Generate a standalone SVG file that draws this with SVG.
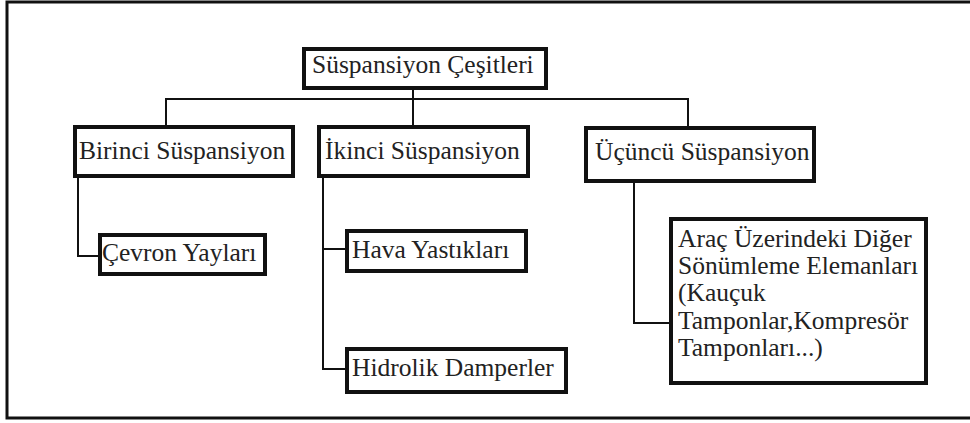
<svg xmlns="http://www.w3.org/2000/svg" width="970" height="423" viewBox="0 0 970 423">
<style>
.box{fill:#fff;stroke:#111;stroke-width:4}
.t{font-family:'Liberation Serif','Times New Roman',serif;font-size:25.5px;fill:#222}
.c{fill:none;stroke:#111;stroke-width:2}
.frame{fill:none;stroke:#111;stroke-width:3}
</style>
<rect x="0" y="0" width="970" height="423" fill="#fff"/>
<path class="frame" d="M970,2 H7 V418 H970"/>
<g id="connectors">
<path class="c" d="M413,90 V126"/>
<path class="c" d="M166,126 V99 H688 V126"/>
<path class="c" d="M78,178 V256 H98"/>
<path class="c" d="M323,178 V369 H345 M323,249 H345"/>
<path class="c" d="M634,183 V323 H669"/>
</g>
<g id="root"><rect class="box" x="304" y="49" width="242" height="39"/><text class="t" x="312" y="73">Süspansiyon Çeşitleri</text></g>
<g id="birinci"><rect class="box" x="75" y="127" width="218" height="49"/><text class="t" x="79" y="159">Birinci Süspansiyon</text></g>
<g id="ikinci"><rect class="box" x="319" y="127" width="209" height="49"/><text class="t" x="325" y="159">İkinci Süspansiyon</text></g>
<g id="ucuncu"><rect class="box" x="586" y="128" width="228" height="53"/><text class="t" x="595" y="160">Üçüncü Süspansiyon</text></g>
<g id="cevron"><rect class="box" x="100" y="235" width="165" height="39"/><text class="t" x="102" y="261">Çevron Yayları</text></g>
<g id="hava"><rect class="box" x="347" y="231" width="179" height="40"/><text class="t" x="352" y="258">Hava Yastıkları</text></g>
<g id="hidrolik"><rect class="box" x="347" y="349" width="219" height="43"/><text class="t" x="352" y="376">Hidrolik Damperler</text></g>
<g id="arac"><rect class="box" x="671" y="219" width="255" height="164"/>
<text class="t" x="678" y="247">Araç Üzerindeki Diğer</text>
<text class="t" x="678" y="274">Sönümleme Elemanları</text>
<text class="t" x="678" y="301">(Kauçuk</text>
<text class="t" x="678" y="329">Tamponlar,Kompresör</text>
<text class="t" x="678" y="356">Tamponları...)</text>
</g>
</svg>
